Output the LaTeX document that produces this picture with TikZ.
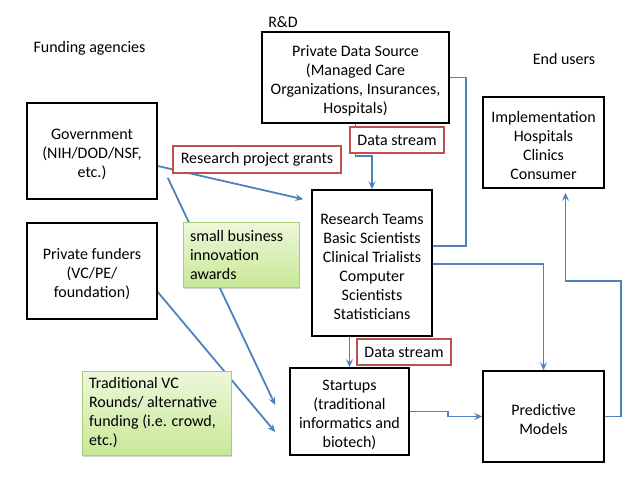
\documentclass[tikz,border=0pt]{standalone}
\usepackage{fontspec}
\setmainfont{Carlito}
\usetikzlibrary{arrows.meta,backgrounds,shadows}
\definecolor{lblue}{HTML}{4F81BD}
\definecolor{lred}{HTML}{C0504D}
\definecolor{gborder}{HTML}{A9CC76}
\definecolor{gtop}{HTML}{EDF7DA}
\definecolor{gbot}{HTML}{C8E898}
\newcommand{\topstrt}{\rule{0pt}{17.5pt}}
\begin{document}
\begin{tikzpicture}[x=1pt,y=-1pt,
  font=\fontsize{16pt}{19pt}\selectfont,
  box/.style={draw=black, line width=1.5pt, fill=white, align=center, inner sep=0pt},
  lbl/.style={draw=lred, line width=1.2pt, fill=white, inner sep=0pt},
  gbox/.style={draw=gborder, line width=0.9pt, top color=gtop, bottom color=gbot,
    align=flush left, inner xsep=7pt, inner ysep=0pt,
    drop shadow={shadow xshift=1.2pt, shadow yshift=-1.5pt, opacity=0.35}},
  conn/.style={draw=lblue, line width=1.8pt},
  arr/.style={conn, -{Stealth[length=8pt,width=7pt,inset=3pt]}},
  plain/.style={inner sep=0pt}]
\useasboundingbox (0,0) rectangle (639,479);

% headings
\node[plain] (fa) at (89.5,48) {Funding agencies};
\node[plain] (rd) at (283,22) {R\&D};
\node[plain] (eu) at (564,59) {End users};

% main boxes
\node[box, minimum width=130pt, minimum height=96pt] (gov) at (92,151)
  {\topstrt Government\\(NIH/DOD/NSF,\\etc.)};
\node[box, minimum width=130pt, minimum height=96pt] (pf) at (92,271)
  {\topstrt Private funders\\(VC/PE/\\foundation)};
\node[box, minimum width=187pt, minimum height=91pt] (pds) at (355.5,77.5)
  {\topstrt Private Data Source\\(Managed Care\\Organizations, Insurances,\\Hospitals)};
\node[box, minimum width=121pt, minimum height=91pt] (impl) at (543.5,142.5)
  {\topstrt Implementation\\Hospitals\\Clinics\\Consumer};
\node[box, minimum width=120pt, minimum height=146pt] (rt) at (372,263)
  {\topstrt Research Teams\\Basic Scientists\\Clinical Trialists\\Computer\\Scientists\\Statisticians};
\node[box, minimum width=119pt, minimum height=87pt] (st) at (349.5,411.5)
  {\topstrt Startups\\(traditional\\informatics and\\biotech)};
\node[box, minimum width=121pt, minimum height=91pt] (pm) at (543.5,416.5)
  {\topstrt Predictive\\Models};

% label boxes
\node[lbl, minimum width=168pt, minimum height=27pt] (rpg) at (257,159.5) {Research project grants};
\node[lbl, minimum width=94pt, minimum height=26pt] (ds1) at (397,140) {Data stream};
\node[lbl, minimum width=94pt, minimum height=26pt] (ds2) at (404,352) {Data stream};

% green boxes
\node[gbox, text width=102pt, minimum height=65pt] (sbi) at (241,254.5)
  {small business\\innovation\\awards};
\node[gbox, text width=135pt, minimum height=84pt] (tvc) at (156.5,413)
  {Traditional VC\\Rounds/ alternative\\funding (i.e. crowd,\\etc.)};

% connectors
\begin{scope}[on background layer]
\draw[arr] ([yshift=-15pt]gov.east) -- ([shift={(-8pt,-10pt)}]rt.north west);
\draw[arr] ([shift={(10pt,22pt)}]gov.south east) -- ([shift={(-14pt,6.5pt)}]st.west);
\draw[arr] ([yshift=-21pt]pf.east) -- ([shift={(-14pt,-20.5pt)}]st.west);
\draw[arr] (pds.south) -- ++(0,-32pt) -| (rt.north);
\draw[conn] (pds.east) -- ++(16pt,0) |- ([yshift=17pt]rt.east);
\draw[arr] ([yshift=-1pt]rt.east) -| (pm.north);
\draw[arr] (st.north |- rt.south) -- (st.north);
\draw[arr] (st.east) -- ++(38pt,0) |- (pm.west);
\draw[arr] (pm.east) -- ++(16pt,0) -- ++(0,135.5pt) -| ([shift={(22pt,-4pt)}]impl.south);
\end{scope}
\end{tikzpicture}
\end{document}
